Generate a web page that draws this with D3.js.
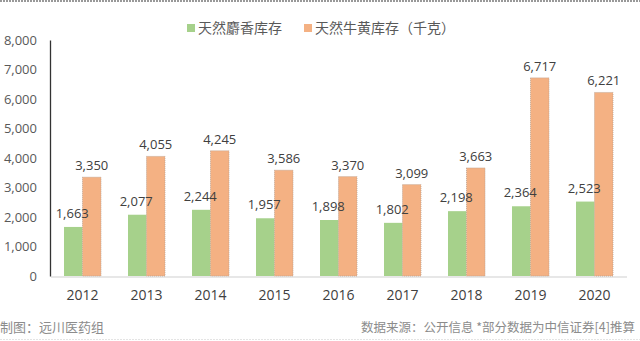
<!DOCTYPE html>
<html>
<head>
<meta charset="utf-8">
<script src="https://cdn.jsdelivr.net/npm/d3@7"></script>
<style>
  html, body { margin: 0; padding: 0; background: #fff; }
  svg { display: block; font-family: "Noto Sans CJK SC", "Noto Sans", sans-serif; }
</style>
</head>
<body>
<svg id="chart" width="640" height="341"></svg>
<script>
// Inventory of natural musk and natural bezoar, in kilograms
const years = ["2012", "2013", "2014", "2015", "2016", "2017", "2018", "2019", "2020"];
const muskStock = [1663, 2077, 2244, 1957, 1898, 1802, 2198, 2364, 2523];
const bezoarStock = [3350, 4055, 4245, 3586, 3370, 3099, 3663, 6717, 6221];
const seriesNames = ["天然麝香库存", "天然牛黄库存（千克）"];
const yTicks = [0, 1000, 2000, 3000, 4000, 5000, 6000, 7000, 8000];
const footerLeft = "制图：远川医药组";
const footerRight = "数据来源：公开信息 *部分数据为中信证券[4]推算";

const colors = ["#a6d18b", "#f4b183"];
const svg = d3.select("#chart");

const x = d3.scaleBand().domain(years).range([50.5, 626.5]).paddingInner(0).paddingOuter(0);
const inner = d3.scaleBand().domain([0, 1]).range([0, 37]);
const y = d3.scaleLinear().domain([0, 8000]).range([276, 40]);
const groupOffset = (x.bandwidth() - 37) / 2;
const fmt = d3.format(",");

// decorative dashed rules at top and bottom
svg.append("line").attr("x1", 0).attr("x2", 640).attr("y1", 1).attr("y2", 1)
  .attr("stroke", "#999").attr("stroke-width", 2).attr("stroke-dasharray", "2,1");
svg.append("line").attr("x1", 0).attr("x2", 640).attr("y1", 339.5).attr("y2", 339.5)
  .attr("stroke", "#e4e4e4").attr("stroke-width", 1).attr("stroke-dasharray", "2,1");

// y axis
const yAxis = svg.append("g").attr("transform", "translate(50,0)")
  .call(d3.axisLeft(y).tickValues(yTicks).tickSize(0).tickPadding(13).tickFormat(fmt));
yAxis.select(".domain").attr("stroke", "#333").attr("stroke-width", 1.3);
yAxis.selectAll("text").attr("fill", "#595959").style("font-size", "13px")
  .style("font-family", "'Open Sans', 'Noto Sans', sans-serif");

// x axis
const xAxis = svg.append("g").attr("transform", "translate(0,276.5)")
  .call(d3.axisBottom(x).tickSize(0).tickPadding(14));
xAxis.select(".domain").attr("stroke", "#d0d0d0").attr("stroke-width", 1.2);
xAxis.selectAll("text").attr("fill", "#404040").style("font-size", "14px")
  .style("font-family", "'Open Sans', 'Noto Sans', sans-serif");

const series = [muskStock, bezoarStock];
const barX = (i, si) => x(years[i]) + groupOffset + inner(si);

// bars first, then value labels so labels sit above neighbouring bars
const barLayer = svg.append("g");
const labelLayer = svg.append("g");
series.forEach((vals, si) => {
  barLayer.append("g").selectAll("rect").data(vals).join("rect")
    .attr("x", (d, i) => barX(i, si))
    .attr("width", inner.bandwidth())
    .attr("y", d => y(d))
    .attr("height", d => y(0) - y(d))
    .attr("fill", colors[si])
    .attr("stroke", si === 1 ? "#b9a08f" : "none")
    .attr("stroke-width", 0.8)
    .attr("stroke-dasharray", si === 1 ? "1,1" : null);
  labelLayer.append("g").selectAll("text").data(vals).join("text")
    .attr("x", (d, i) => barX(i, si) + inner.bandwidth() / 2 + (si === 0 ? -1 : 0))
    .attr("y", d => y(d) - (si === 0 ? 9 : 7))
    .attr("text-anchor", "middle")
    .attr("fill", "#404040")
    .style("font-size", "13px")
    .style("font-family", "'Open Sans', 'Noto Sans', sans-serif")
    .text(d => fmt(d));
});

// legend
const legendX = [187, 304];
seriesNames.forEach((name, i) => {
  svg.append("rect").attr("x", legendX[i]).attr("y", 24).attr("width", 8).attr("height", 8)
    .attr("fill", colors[i]);
  svg.append("text").attr("x", legendX[i] + 11).attr("y", 33)
    .attr("fill", "#595959").style("font-size", "14px").text(name);
});

// footer
svg.append("text").attr("x", 0).attr("y", 332).attr("fill", "#8c8c8c")
  .style("font-size", "13px").text(footerLeft);
svg.append("text").attr("x", 635).attr("y", 332).attr("text-anchor", "end").attr("fill", "#8c8c8c")
  .style("font-size", "12.5px").text(footerRight);
</script>
</body>
</html>
